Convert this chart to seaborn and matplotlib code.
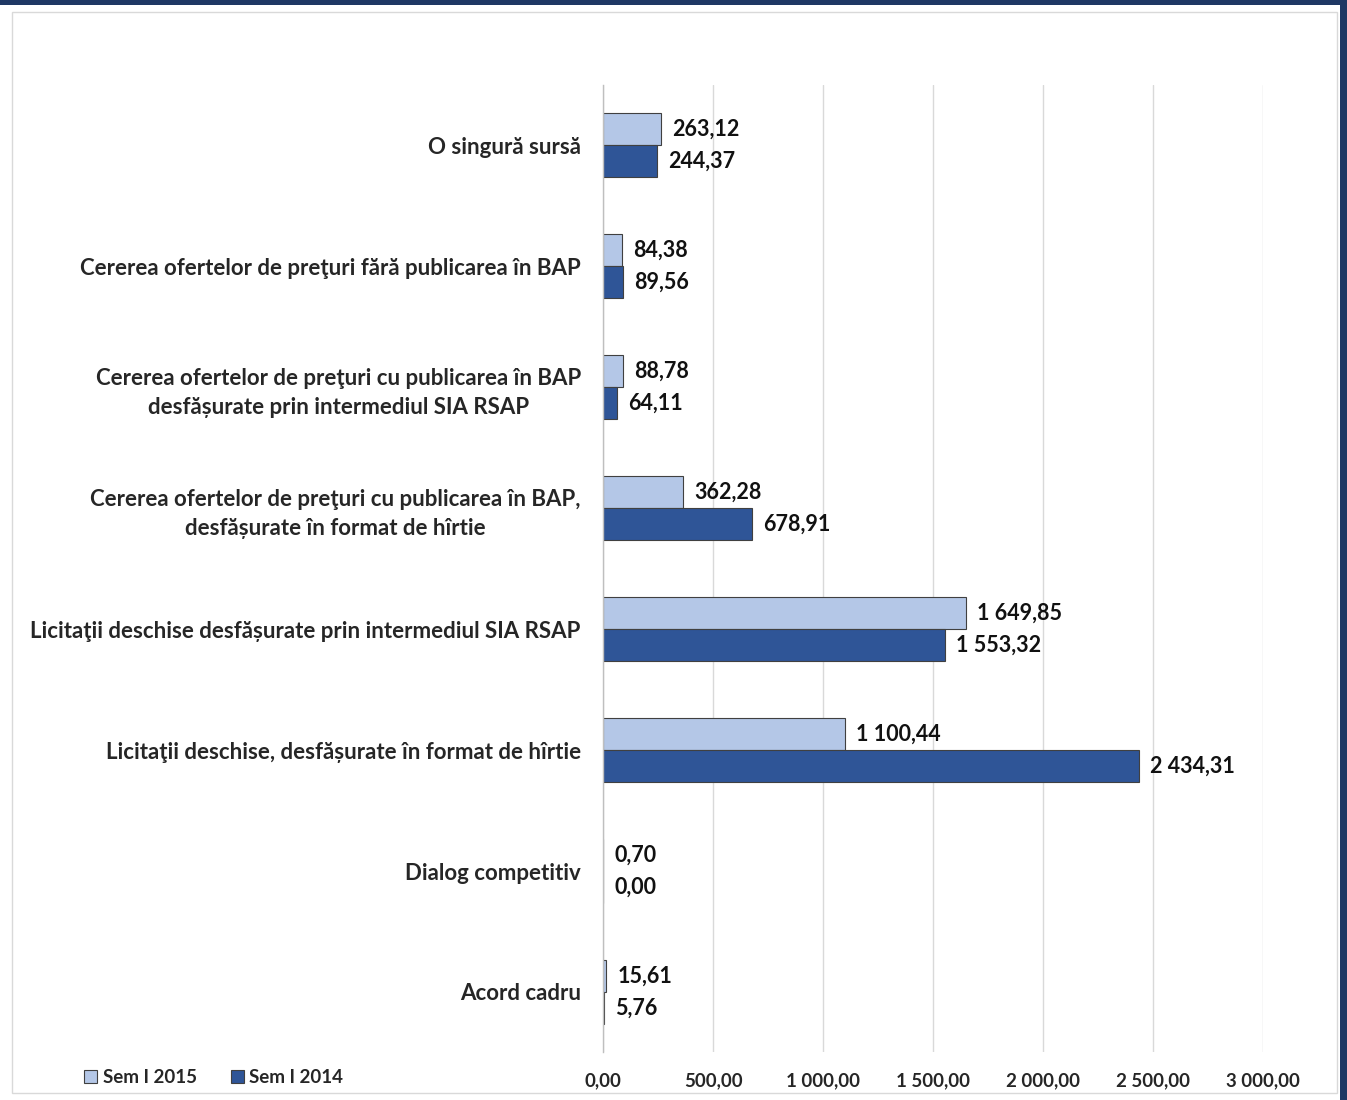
import pandas as pd
import seaborn as sns
import matplotlib.pyplot as plt
from matplotlib.patches import Rectangle, Patch

categories = [
    "O singură sursă",
    "Cererea ofertelor de preţuri fără publicarea în BAP",
    "Cererea ofertelor de preţuri cu publicarea în BAP\ndesfășurate prin intermediul SIA RSAP",
    "Cererea ofertelor de preţuri cu publicarea în BAP,\ndesfășurate în format de hîrtie",
    "Licitaţii deschise desfășurate prin intermediul SIA RSAP",
    "Licitaţii deschise, desfășurate în format de hîrtie",
    "Dialog competitiv",
    "Acord cadru",
]
sem_2015 = [263.12, 84.38, 88.78, 362.28, 1649.85, 1100.44, 0.70, 15.61]
sem_2014 = [244.37, 89.56, 64.11, 678.91, 1553.32, 2434.31, 0.00, 5.76]
series = ["Sem I 2015", "Sem I 2014"]
colors = ["#B4C7E7", "#2F5597"]
xticks = [0, 500, 1000, 1500, 2000, 2500, 3000]


def ro_fmt(v):
    s = f"{v:,.2f}"
    return s.replace(",", " ").replace(".", ",")


df = pd.DataFrame({
    "cat": categories * 2,
    "val": sem_2015 + sem_2014,
    "series": [series[0]] * len(categories) + [series[1]] * len(categories),
})

sns.set_style("white")
plt.rcParams["font.family"] = ["Lato", "DejaVu Sans"]
plt.rcParams["font.weight"] = "bold"

fig = plt.figure(figsize=(13.47, 11), dpi=100)
ax = fig.add_axes([0.4477, 0.0432, 0.9376 - 0.4477, 0.923 - 0.0432])

sns.barplot(data=df, y="cat", x="val", hue="series", orient="h",
            palette=colors, saturation=1, width=0.53, ax=ax, legend=False,
            edgecolor="#404040", linewidth=0.8)

for cont in ax.containers:
    ax.bar_label(cont, labels=[ro_fmt(b.get_width()) for b in cont],
                 padding=8, fontsize=15.5, fontweight="bold", color="#111111")

ax.set_xlim(0, 3000)
ax.set_xticks(xticks)
ax.set_xticklabels([ro_fmt(t) for t in xticks], fontsize=13.5, fontweight="bold")
ax.set_yticklabels(categories, fontsize=16, fontweight="bold", ha="right",
                   multialignment="center", linespacing=1.45)
ax.tick_params(axis="x", length=0, pad=14)
ax.tick_params(axis="y", length=0, pad=16)
ax.set_xlabel("")
ax.set_ylabel("")
ax.grid(axis="x", color="#D9D9D9", linewidth=1)
ax.set_axisbelow(True)
for s in ["top", "right", "bottom"]:
    ax.spines[s].set_visible(False)
ax.spines["left"].set_color("#BFBFBF")
ax.spines["left"].set_linewidth(1)

handles = [Patch(facecolor=c, edgecolor="#404040", linewidth=0.8, label=l)
           for c, l in zip(colors, series)]
fig.legend(handles=handles, loc="lower left", bbox_to_anchor=(0.05, -0.003),
           ncol=2, frameon=False, handlelength=0.7,
           handleheight=0.7, handletextpad=0.3, columnspacing=1.8,
           prop={"weight": "bold", "size": 13.5})

# outer frame
fig.patches.append(Rectangle((0, 1 - 5 / 1100), 1, 5 / 1100, transform=fig.transFigure,
                             facecolor="#1F3864", edgecolor="none", zorder=0))
fig.patches.append(Rectangle((1 - 7 / 1347, 0), 7 / 1347, 1, transform=fig.transFigure,
                             facecolor="#1F3864", edgecolor="none", zorder=0))
fig.patches.append(Rectangle((12 / 1347, 7 / 1100), 1325 / 1347, 1081 / 1100,
                             transform=fig.transFigure, facecolor="none",
                             edgecolor="#D9D9D9", linewidth=1, zorder=0))

fig.savefig("out.png", dpi=100)
